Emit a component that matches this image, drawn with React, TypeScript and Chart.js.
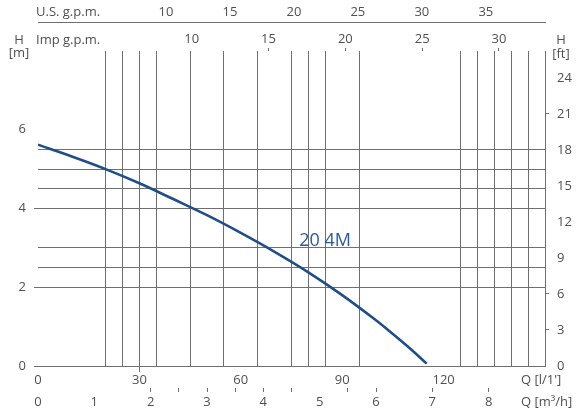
import React, { useEffect, useRef } from 'react';
import { Chart, registerables } from 'chart.js';

Chart.register(...registerables);

// ---- data ----
const Q_LPM = [0, 10, 20, 30, 40, 50, 60, 70, 80, 90, 100, 105, 110, 115];
const H_M = [5.62, 5.32, 5.0, 4.64, 4.24, 3.83, 3.38, 2.9, 2.38, 1.8, 1.16, 0.81, 0.45, 0.06];
const CURVE_NAME = '20 4M';
const CURVE_LABEL_Q = 77.3;
const CURVE_LABEL_H = 3.18;

const Q_MAX = 150;
const H_MAX = 8;

const GRID_Q = [20, 25, 30, 35, 45, 55, 65, 75, 80, 85, 95, 125, 130, 135, 140, 145, 150];
const LPM_LABELS = [0, 30, 60, 90, 120];
const LPM_MARKS = [30];

const GRID_H = [0, 2, 2.5, 3, 4, 4.5, 5, 5.5];
const H_LABELS = [0, 2, 4, 6];
const H_MARKS = [0, 2, 4];

const FT_LABELS = [0, 3, 6, 9, 12, 15, 18, 21, 24];
const FT_MARKS = [3, 6, 21];

const M3H_LABELS = [0, 1, 2, 3, 4, 5, 6, 7, 8];
const M3H_MARKS = [2, 2.5, 3, 3.5, 4, 4.5, 5.5, 6, 7, 8];

const USG_LABELS = [10, 15, 20, 25, 30, 35];
const IMP_LABELS = [10, 15, 20, 25, 30];
const IMP_MARKS = [15, 20, 25, 30];

const LPM_PER_M3H = 1000 / 60;
const LPM_PER_USG = 3.78541;
const LPM_PER_IMP = 4.54609;
const FT_PER_M = 3.28084;

// ---- styles ----
const FONT_FAMILY = '"Open Sans", "DejaVu Sans", sans-serif';
const TEXT_COLOR = '#505050';
const GRID_COLOR = '#6f6f6f';
const CURVE_COLOR = '#1f4e8a';
const CURVE_TEXT_COLOR = '#2b5b9c';
const T = 'rgba(0,0,0,0)';

const has = (arr: number[], v: number) => arr.some((a) => Math.abs(a - v) < 1e-6);
const union = (...arrs: number[][]) =>
  Array.from(new Set(arrs.flat().map((v) => Math.round(v * 1000) / 1000))).sort((a, b) => a - b);

const tickFont = { family: FONT_FAMILY, size: 13 };

export default function App() {
  const ref = useRef<HTMLCanvasElement | null>(null);

  useEffect(() => {
    const canvas = ref.current;
    if (!canvas) return;

    const textPlugin = {
      id: 'extraText',
      afterDraw(chart: any) {
        const { ctx, chartArea } = chart;
        const xs = chart.scales.x;
        const ys = chart.scales.y;
        ctx.save();
        ctx.fillStyle = TEXT_COLOR;
        ctx.font = `13px ${FONT_FAMILY}`;
        ctx.textBaseline = 'middle';
        ctx.textAlign = 'left';
        ctx.fillText('U.S. g.p.m.', chartArea.left - 2, 12);
        ctx.fillText('Imp g.p.m.', chartArea.left - 2, 40);
        ctx.fillText("Q [l/1']", chartArea.right - 24, 380);
        ctx.fillText('Q [m³/h]', chartArea.right - 24, 402);
        ctx.textAlign = 'center';
        ctx.fillText('H', 19, 40);
        ctx.fillText('[m]', 19, 53);
        ctx.fillText('H', 561, 40);
        ctx.fillText('[ft]', 561, 54);
        // curve name
        ctx.fillStyle = CURVE_TEXT_COLOR;
        ctx.font = `18px ${FONT_FAMILY}`;
        ctx.textAlign = 'left';
        ctx.fillText(CURVE_NAME, xs.getPixelForValue(CURVE_LABEL_Q), ys.getPixelForValue(CURVE_LABEL_H));
        ctx.restore();
      },
    };

    const xTicks = union(GRID_Q, LPM_LABELS);
    const yTicks = union(GRID_H, H_LABELS);
    const m3hTicks = union(M3H_LABELS, M3H_MARKS);

    const chart = new Chart(canvas, {
      type: 'line',
      data: {
        datasets: [
          {
            label: CURVE_NAME,
            data: Q_LPM.map((q, i) => ({ x: q, y: H_M[i] })),
            borderColor: CURVE_COLOR,
            borderWidth: 2.6,
            pointRadius: 0,
            fill: false,
            tension: 0.4,
            xAxisID: 'x',
            yAxisID: 'y',
          },
        ],
      },
      options: {
        animation: false,
        responsive: false,
        maintainAspectRatio: false,
        layout: { padding: 0 },
        plugins: { legend: { display: false }, tooltip: { enabled: false }, title: { display: false } },
        scales: {
          x: {
            type: 'linear',
            position: 'bottom',
            weight: 0,
            min: 0,
            max: Q_MAX,
            afterBuildTicks: (s: any) => {
              s.ticks = xTicks.map((v) => ({ value: v }));
            },
            afterFit: (s: any) => {
              s.height = 22;
            },
            ticks: {
              autoSkip: false,
              maxRotation: 0,
              padding: 0,
              color: TEXT_COLOR,
              font: tickFont,
              callback: (v: any) => (has(LPM_LABELS, Number(v)) ? String(v) : ''),
            },
            grid: {
              drawOnChartArea: true,
              drawTicks: true,
              tickLength: 6,
              lineWidth: 1,
              color: (c: any) => (c.tick && has(GRID_Q, c.tick.value) ? GRID_COLOR : T),
              tickColor: (c: any) => (c.tick && has(LPM_MARKS, c.tick.value) ? GRID_COLOR : T),
            },
            border: { display: true, color: GRID_COLOR, width: 1 },
          },
          m3h: {
            type: 'linear',
            position: 'bottom',
            weight: 1,
            min: 0,
            max: Q_MAX / LPM_PER_M3H,
            afterBuildTicks: (s: any) => {
              s.ticks = m3hTicks.map((v) => ({ value: v }));
            },
            afterFit: (s: any) => {
              s.height = 28;
            },
            ticks: {
              autoSkip: false,
              maxRotation: 0,
              padding: 2,
              color: TEXT_COLOR,
              font: tickFont,
              callback: (v: any) => (has(M3H_LABELS, Number(v)) ? String(v) : ''),
            },
            grid: {
              drawOnChartArea: false,
              drawTicks: true,
              tickLength: 4,
              color: (c: any) => (c.tick && has(M3H_MARKS, c.tick.value) ? GRID_COLOR : T),
              tickColor: (c: any) => (c.tick && has(M3H_MARKS, c.tick.value) ? GRID_COLOR : T),
            },
            border: { display: false },
          },
          imp: {
            type: 'linear',
            position: 'top',
            weight: 0,
            min: 0,
            max: Q_MAX / LPM_PER_IMP,
            afterBuildTicks: (s: any) => {
              s.ticks = IMP_LABELS.map((v) => ({ value: v }));
            },
            afterFit: (s: any) => {
              s.height = 29;
            },
            ticks: {
              autoSkip: false,
              maxRotation: 0,
              padding: 1,
              color: TEXT_COLOR,
              font: tickFont,
              callback: (v: any) => String(v),
            },
            grid: {
              drawOnChartArea: false,
              drawTicks: true,
              tickLength: 3,
              color: T,
              tickColor: (c: any) => (c.tick && has(IMP_MARKS, c.tick.value) ? GRID_COLOR : T),
            },
            border: { display: false },
          },
          usg: {
            type: 'linear',
            position: 'top',
            weight: 1,
            min: 0,
            max: Q_MAX / LPM_PER_USG,
            afterBuildTicks: (s: any) => {
              s.ticks = USG_LABELS.map((v) => ({ value: v }));
            },
            afterFit: (s: any) => {
              s.height = 22;
            },
            ticks: {
              autoSkip: false,
              maxRotation: 0,
              padding: 2,
              color: TEXT_COLOR,
              font: tickFont,
              callback: (v: any) => String(v),
            },
            grid: { display: true, drawOnChartArea: false, drawTicks: false, color: T },
            border: { display: true, color: GRID_COLOR, width: 1 },
          },
          y: {
            type: 'linear',
            position: 'left',
            min: 0,
            max: H_MAX,
            afterBuildTicks: (s: any) => {
              s.ticks = yTicks.map((v) => ({ value: v }));
            },
            afterFit: (s: any) => {
              s.width = 38;
            },
            ticks: {
              autoSkip: false,
              padding: 8,
              color: TEXT_COLOR,
              font: tickFont,
              callback: (v: any) => (has(H_LABELS, Number(v)) ? String(v) : ''),
            },
            grid: {
              drawOnChartArea: true,
              drawTicks: true,
              tickLength: 4,
              lineWidth: 1,
              color: (c: any) => (c.tick && has(GRID_H, c.tick.value) ? GRID_COLOR : T),
              tickColor: (c: any) => (c.tick && has(H_MARKS, c.tick.value) ? GRID_COLOR : T),
            },
            border: { display: false },
          },
          yft: {
            type: 'linear',
            position: 'right',
            min: 0,
            max: H_MAX * FT_PER_M,
            afterBuildTicks: (s: any) => {
              s.ticks = FT_LABELS.map((v) => ({ value: v }));
            },
            afterFit: (s: any) => {
              s.width = 36;
            },
            ticks: {
              autoSkip: false,
              padding: 8,
              color: TEXT_COLOR,
              font: tickFont,
              callback: (v: any) => String(v),
            },
            grid: {
              drawOnChartArea: false,
              drawTicks: true,
              tickLength: 4,
              color: T,
              tickColor: (c: any) => (c.tick && has(FT_MARKS, c.tick.value) ? GRID_COLOR : T),
            },
            border: { display: false },
          },
        },
      } as any,
      plugins: [textPlugin],
    });

    return () => chart.destroy();
  }, []);

  return (
    <div style={{ position: 'fixed', left: 0, top: 0, width: 581, height: 416, background: '#fff' }}>
      <canvas ref={ref} width={581} height={416} style={{ display: 'block', width: 581, height: 416 }} />
    </div>
  );
}
